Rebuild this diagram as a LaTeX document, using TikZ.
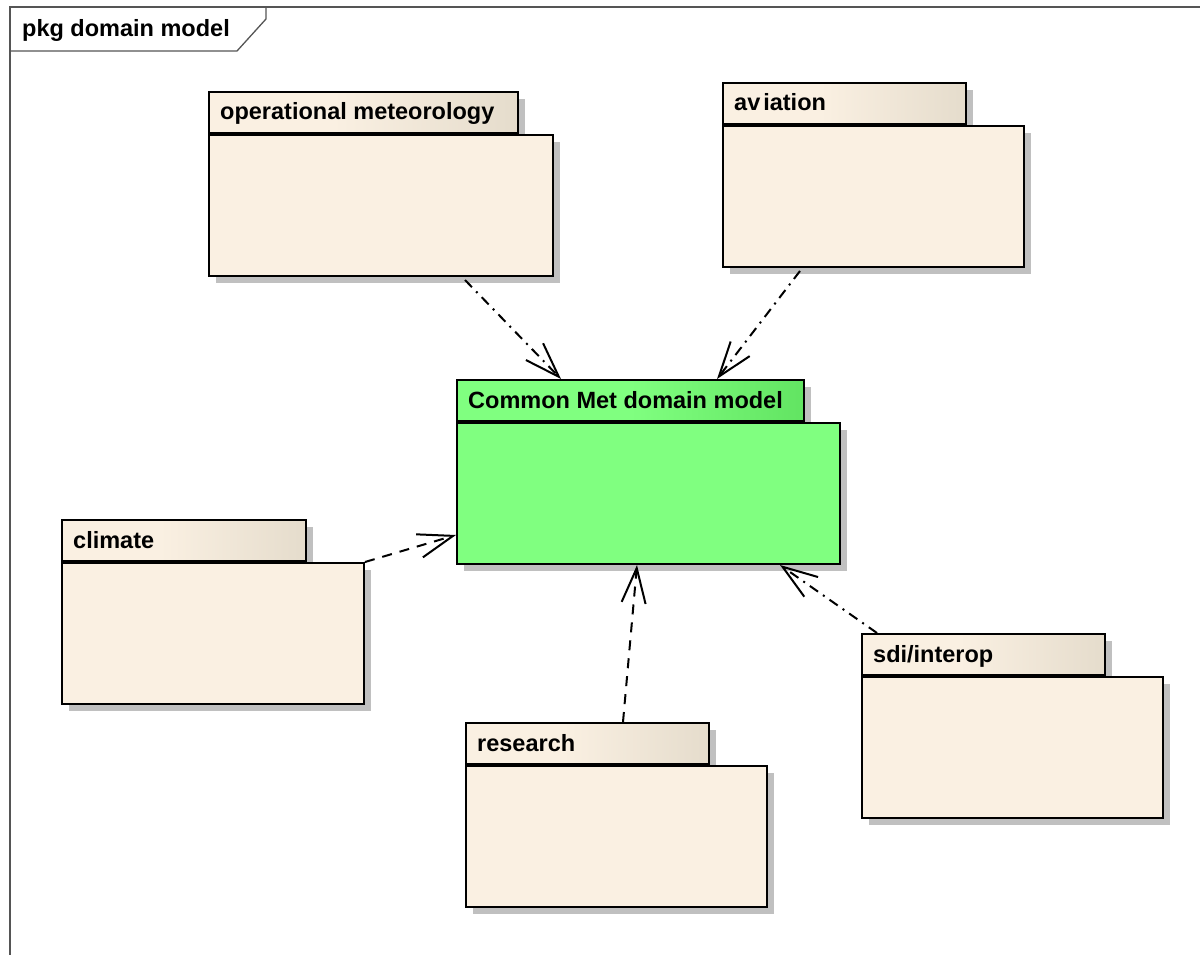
\documentclass[tikz,border=0pt]{standalone}
\usepackage{fontspec}
\setmainfont{Liberation Sans}
\usetikzlibrary{arrows.meta,shadows,calc}

\definecolor{pkgcream}{RGB}{250,240,226}
\definecolor{pkgtabend}{RGB}{229,220,204}
\definecolor{metgreen}{RGB}{128,255,128}
\definecolor{metgreenend}{RGB}{98,228,98}
\definecolor{shadowgray}{RGB}{192,192,192}
\definecolor{framegray}{RGB}{85,85,85}

% tab gradients: flat on the left, darkening towards the right edge
\pgfdeclarehorizontalshading{creamtab}{100bp}{color(0bp)=(pkgcream); color(25bp)=(pkgcream); color(45bp)=(pkgcream); color(75bp)=(pkgtabend); color(100bp)=(pkgtabend)}
\pgfdeclarehorizontalshading{greentab}{100bp}{color(0bp)=(metgreen); color(25bp)=(metgreen); color(50bp)=(metgreen); color(75bp)=(metgreenend); color(100bp)=(metgreenend)}

\tikzset{
  pkgshadow/.style={drop shadow={shadow xshift=7pt, shadow yshift=-7pt, fill=shadowgray, opacity=1}},
  tabbase/.style={draw=black, line width=2pt, rectangle, inner sep=0pt, minimum height=41pt, pkgshadow},
  pkgtab/.style={tabbase, shade, shading=creamtab},
  greentabstyle/.style={tabbase, shade, shading=greentab},
  bodybase/.style={draw=black, line width=2pt, rectangle, inner sep=0pt, minimum height=141pt, pkgshadow},
  pkgbody/.style={bodybase, fill=pkgcream},
  greenbody/.style={bodybase, fill=metgreen},
  pkglabel/.style={font=\fontsize{23.5}{28}\selectfont\bfseries, inner sep=0pt, anchor=base west},
  dep/.style={line width=2pt, -{Straight Barb[length=35pt, width=24pt, line width=2pt]}},
  depdash/.style={dep, dash pattern=on 10pt off 8pt},
  depdashdot/.style={dep, dash pattern=on 10pt off 6pt on 2pt off 6pt},
  frameline/.style={draw=framegray, line width=1.3pt},
}

% #1 tab style, #2 body style, #3 name, #4 x, #5 y, #6 tab width, #7 body width, #8 title
\newcommand{\umlpackage}[8]{%
  \node[#1, minimum width=#6pt, anchor=north west] (#3-tab) at (#4,#5) {};
  \node[#2, minimum width=#7pt, anchor=north west] (#3-body) at (#3-tab.south west) {};
  \node[pkglabel] (#3-label) at ([xshift=12pt, yshift=-29pt]#3-tab.north west) {#8};
}

\begin{document}
\begin{tikzpicture}[x=1pt, y=-1pt]
  \useasboundingbox (0,0) rectangle (1200,955);

  % diagram frame with its name tag
  \draw[frameline] (10,955) -- (10,7) -- (1200,7);
  \draw[frameline] (10,51) -- (237,51) -- (266,19) -- (266,7);
  \node[pkglabel] (frame-label) at (22,37) {pkg domain model};

  % packages
  \umlpackage{pkgtab}{pkgbody}{opmet}{208}{91}{309}{344}{operational meteorology}
  \umlpackage{pkgtab}{pkgbody}{avi}{722}{82}{243}{301}{av\kern3pt iation}
  \umlpackage{greentabstyle}{greenbody}{cm}{456}{379}{347}{383}{Common Met domain model}
  \umlpackage{pkgtab}{pkgbody}{clim}{61}{519}{244}{302}{climate}
  \umlpackage{pkgtab}{pkgbody}{res}{465}{722}{243}{301}{research}
  \umlpackage{pkgtab}{pkgbody}{sdi}{861}{633}{243}{301}{sdi/interop}

  % dependencies on the common model
  \draw[depdashdot] ([xshift=257pt, yshift=-3pt]opmet-body.south west) -- ([xshift=105pt]cm-tab.north west);
  \draw[depdashdot] ([xshift=78pt, yshift=-3pt]avi-body.south west) -- ([xshift=261pt]cm-tab.north west);
  \draw[depdash] (clim-body.north east) -- ([yshift=30pt]cm-body.south west);
  \draw[depdash] ([xshift=158pt]res-tab.north west) -- ([xshift=181pt]cm-body.south west);
  \draw[depdashdot] ([xshift=16pt]sdi-tab.north west) -- ([xshift=324pt]cm-body.south west);
\end{tikzpicture}
\end{document}
